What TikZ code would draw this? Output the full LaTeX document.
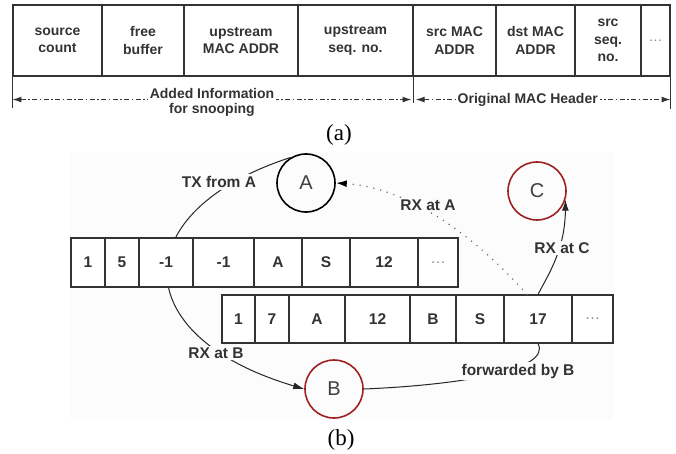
\documentclass[tikz,border=0pt]{standalone}
\usepackage{fontspec}
\setmainfont{Liberation Serif}
\setsansfont{Liberation Sans}
\usetikzlibrary{arrows.meta}
\definecolor{nodered}{RGB}{158,32,32}
\definecolor{bgpane}{gray}{0.99}
\newcommand\celldots{{\color{black!45}\mdseries\dots}}

\begin{document}
\begin{tikzpicture}[x=1pt,y=1pt,
  hcell/.style={draw=black!80, line width=1.1pt, minimum height=71pt, inner sep=0pt, align=center,
    font=\sffamily\bfseries\fontsize{14}{17.5}\selectfont, text=black!80},
  pcell/.style={draw=black!80, line width=1.1pt, fill=white, inner sep=0pt,
    font=\sffamily\bfseries\fontsize{15.5}{17}\selectfont, text=black!80},
  extline/.style={draw=black!80, line width=1.1pt},
  dimline/.style={black!80, line width=1.1pt, dash pattern=on 5pt off 2.5pt on 1.5pt off 2.5pt,
    {Latex[length=9pt,width=6pt]}-{Latex[length=9pt,width=6pt]}},
  dimlbl/.style={fill=white, inner sep=2pt, align=center,
    font=\sffamily\bfseries\fontsize{14}{15}\selectfont, text=black!80},
  hop/.style={draw, circle, minimum size=58pt, line width=1.6pt,
    font=\sffamily\fontsize{20}{22}\selectfont, text=black!75},
  tag/.style={fill=bgpane, inner sep=2pt, font=\sffamily\bfseries\fontsize{15.5}{17}\selectfont, text=black!80},
  link/.style={black!85, line width=1pt},
  tip/.style={-{Latex[length=11pt,width=7pt]}},
  rxdots/.style={black!60, line width=1.6pt, dash pattern=on 0pt off 7pt, line cap=round,
    -{Latex[length=11pt,width=7pt,black]}},
  subcap/.style={font=\rmfamily\fontsize{23}{26}\selectfont}]
\useasboundingbox (0,0) rectangle (676,453);

% (a) header layout
\foreach \l/\r/\t [count=\i] in {13/102/{source\\count}, 102/184/{free\\buffer},
    184/298/{upstream\\MAC ADDR}, 298/413/{upstream\\seq. no.}, 413/496/{src MAC\\ADDR},
    496/575/{dst MAC\\ADDR}, 575/641/{src\\seq.\\no.}, 641/670/{\celldots}}
  \node[hcell, minimum width=\r-\l] (h\i) at ({(\l+\r)/2},412.5) {\t};
\draw[extline] (h1.south west) -- ++(0,-31);
\draw[extline] (h4.south east) -- ++(0,-26);
\draw[extline] (h8.south east) -- ++(0,-32);
\draw[dimline] ([yshift=-23pt]h1.south west) --
  node[dimlbl, yshift=-3pt] {Added Information\\for snooping} ([xshift=-2pt,yshift=-23pt]h4.south east);
\draw[dimline] ([xshift=2pt,yshift=-23pt]h4.south east) --
  node[dimlbl, pos=0.44] {Original MAC Header} ([yshift=-23pt]h8.south east);
\node[subcap] (capa) at (339,318) {(a)};

% (b) snooping example
\fill[bgpane] (70,33) rectangle (613,301);
\node[hop] (A) at (306,270) {A};
\node[hop, draw=nodered] (B) at (334,64) {B};
\node[hop, draw=nodered] (C) at (537,262) {C};
\draw[link, tip] (A.121) .. controls (125,242) and (125,117) .. (B.west);

\foreach \l/\r/\t [count=\i] in {71/105/1, 105/139/5, 139/193/-1, 193/254/-1,
    254/302/A, 302/350/S, 350/418/12, 418/458/{\celldots}}
  \node[pcell, minimum width=\r-\l, minimum height=49pt] (p\i) at ({(\l+\r)/2},190.5) {\t};
\foreach \l/\r/\t [count=\i] in {222/255/1, 255/289/7, 289/345/A, 345/410/12,
    410/456/B, 456/504/S, 504/572/17, 572/613/{\celldots}}
  \node[pcell, minimum width=\r-\l, minimum height=48pt] (q\i) at ({(\l+\r)/2},134) {\t};

\draw[rxdots] ([xshift=-11pt]q7.north) .. controls (465,228) and (400,266) .. (A.east);
\draw[link, tip] (q7.north) .. controls (548,178) and (565,203) .. (C.-17);
\draw[link] (q7.south) .. controls (552,83) and (460,68) .. (B.east);

\node[tag] (txA) at (219,271) {TX from A};
\node[tag] (rxA) at (428,248) {RX at A};
\node[tag] (rxC) at (562,205) {RX at C};
\node[tag] (rxB) at (216,100) {RX at B};
\node[tag] (fwdB) at (518,82) {forwarded by B};
\node[subcap] (capb) at (341,13) {(b)};
\end{tikzpicture}
\end{document}
